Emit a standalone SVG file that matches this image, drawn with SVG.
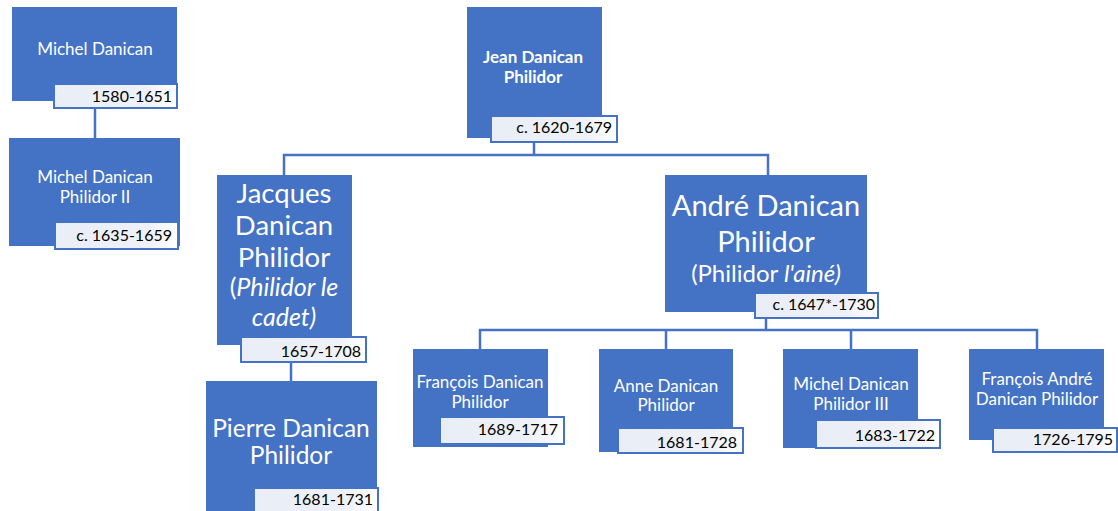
<svg xmlns="http://www.w3.org/2000/svg" width="1118" height="511" viewBox="0 0 1118 511">
<defs>
<linearGradient id="g" x1="0" y1="0" x2="1" y2="0">
<stop offset="0" stop-color="#e9edf6"/>
<stop offset="0.75" stop-color="#eef1f8"/>
<stop offset="1" stop-color="#ffffff"/>
</linearGradient>
</defs>
<style>
.b{fill:#4472c4}
.d{fill:url(#g);stroke:#4472c4;stroke-width:2}
.c{fill:none;stroke:#4472c4;stroke-width:2.5}
text{font-family:Lato,"Liberation Sans",sans-serif}
.n{fill:#ffffff;text-anchor:middle;font-size:17px}
.t{fill:#000000;text-anchor:end;font-size:16px}
.L{font-size:27.5px}
.I{font-size:25px}
.M{font-size:24.5px}
.X{font-size:29px}
.S{font-size:24px}
.i{font-style:italic}
</style>
<rect width="1118" height="511" fill="#ffffff"/>
<g id="connectors">
<path class="c" d="M95 108V138"/>
<path class="c" d="M534 142V155M284 175V155H768V175"/>
<path class="c" d="M291 362V381"/>
<path class="c" d="M766 318V330M480 349V330H1037V349M666 330V349M851 330V349"/>
</g>
<g id="michel">
<rect class="b" x="12" y="7" width="165" height="94"/>
<text class="n" x="95" y="55">Michel Danican</text>
<rect class="d" x="54" y="84" width="123" height="24"/>
<text class="t" x="172" y="102">1580-1651</text>
</g>
<g id="michel2">
<rect class="b" x="9" y="138" width="171" height="108"/>
<text class="n" x="95" y="183">Michel Danican</text>
<text class="n" x="95" y="203">Philidor II</text>
<rect class="d" x="55" y="222" width="123" height="27"/>
<text class="t" x="172" y="241">c. 1635-1659</text>
</g>
<g id="jean">
<rect class="b" x="467" y="7" width="135" height="131"/>
<text class="n" x="533" y="63" font-weight="bold">Jean Danican</text>
<text class="n" x="533" y="83" font-weight="bold">Philidor</text>
<rect class="d" x="491" y="116" width="126" height="26"/>
<text class="t" x="612" y="133">c. 1620-1679</text>
</g>
<g id="jacques">
<rect class="b" x="217" y="175" width="135" height="170"/>
<text class="n L" x="284" y="203">Jacques</text>
<text class="n L" x="284" y="235">Danican</text>
<text class="n L" x="284" y="267">Philidor</text>
<text class="n I" x="284" y="296">(<tspan class="i">Philidor le</tspan></text>
<text class="n I i" x="284" y="326">cadet)</text>
<rect class="d" x="241" y="337" width="125" height="25"/>
<text class="t" x="361" y="357">1657-1708</text>
</g>
<g id="pierre">
<rect class="b" x="206" y="381" width="171" height="135"/>
<text class="n M" x="291" y="437">Pierre Danican</text>
<text class="n M" x="291" y="464">Philidor</text>
<rect class="d" x="254" y="488" width="124" height="28"/>
<text class="t" x="373" y="505">1681-1731</text>
</g>
<g id="andre">
<rect class="b" x="665" y="175" width="202" height="137"/>
<text class="n X" x="766" y="216">André Danican</text>
<text class="n X" x="766" y="252">Philidor</text>
<text class="n S" x="766" y="282">(Philidor <tspan class="i">l'ainé)</tspan></text>
<rect class="d" x="755" y="293" width="123" height="25"/>
<text class="t" x="875" y="310">c. 1647*-1730</text>
</g>
<g id="francois">
<rect class="b" x="413" y="349" width="135" height="98"/>
<text class="n" x="480" y="388">François Danican</text>
<text class="n" x="480" y="408">Philidor</text>
<rect class="d" x="440" y="417" width="124" height="27"/>
<text class="t" x="558" y="435">1689-1717</text>
</g>
<g id="anne">
<rect class="b" x="599" y="349" width="134" height="103"/>
<text class="n" x="666" y="392">Anne Danican</text>
<text class="n" x="666" y="411">Philidor</text>
<rect class="d" x="618" y="428" width="125" height="25"/>
<text class="t" x="737" y="448">1681-1728</text>
</g>
<g id="michel3">
<rect class="b" x="783" y="349" width="135" height="99"/>
<text class="n" x="851" y="390">Michel Danican</text>
<text class="n" x="851" y="410">Philidor III</text>
<rect class="d" x="816" y="420" width="124" height="28"/>
<text class="t" x="935" y="441">1683-1722</text>
</g>
<g id="francoisandre">
<rect class="b" x="969" y="349" width="135" height="91"/>
<text class="n" x="1037" y="385">François André</text>
<text class="n" x="1037" y="405">Danican Philidor</text>
<rect class="d" x="993" y="428" width="124" height="24"/>
<text class="t" x="1113" y="445">1726-1795</text>
</g>
</svg>
